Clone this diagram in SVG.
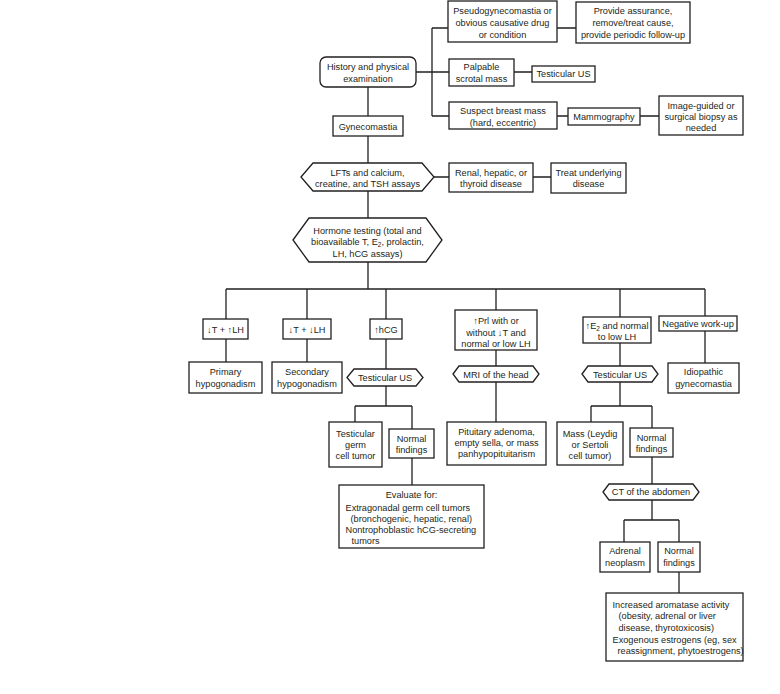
<svg xmlns="http://www.w3.org/2000/svg" width="780" height="694" viewBox="0 0 780 694">
<style>
.b{fill:#fff;stroke:#231f20;stroke-width:1.3}
.c{fill:none;stroke:#231f20;stroke-width:1.3}
text{font-family:"Liberation Sans",Arial,"DejaVu Sans",sans-serif;font-size:9.2px;fill:#231f20;text-anchor:middle}
.l{text-anchor:start}
.s{font-size:6.5px;baseline-shift:-1.5px}
</style>
<rect width="780" height="694" fill="#fff"/>
<g id="connectors" class="c">
<path d="M368,87V116M368,136V163M368,191V218M368,262V289"/>
<path d="M416,72H449M432,28V116M432,28H448M432,116H449"/>
<path d="M557,28H576M514,72H532M557,116H568M640,116H659"/>
<path d="M434,177H449M533,177H551"/>
<path d="M226,289H705M226,289V319M307,289V319M386,289V319M496,289V310M620,289V317M705,289V316"/>
<path d="M226,339V362M307,339V362M386,339V369M496,350V366M620,343V366M705,331V363"/>
<path d="M386,386V406M355,406H412M355,406V422M412,406V429M412,458V485"/>
<path d="M496,382V422"/>
<path d="M620,382V406M591,406H652M591,406V422M652,406V428M652,457V484"/>
<path d="M652,500V520M624,520H679M624,520V542M679,520V542M679,572V593"/>
</g>
<g id="history"><rect class="b" x="320" y="57" width="96" height="30" rx="6"/><text x="368" y="69.5">History and physical</text><text x="368" y="81.5">examination</text></g>
<g id="pseudo"><rect class="b" x="448" y="1" width="109" height="41"/><text x="502.5" y="14">Pseudogynecomastia or</text><text x="502.5" y="25.8">obvious causative drug</text><text x="502.5" y="37.5">or condition</text></g>
<g id="assurance"><rect class="b" x="576" y="2" width="114" height="41"/><text x="633" y="14">Provide assurance,</text><text x="633" y="25.8">remove/treat cause,</text><text x="633" y="37.5">provide periodic follow-up</text></g>
<g id="palpable"><rect class="b" x="449" y="59" width="65" height="27"/><text x="481.5" y="69.5">Palpable</text><text x="481.5" y="81.5">scrotal mass</text></g>
<g id="tus1"><rect class="b" x="532" y="66" width="63" height="16"/><text x="563.5" y="77.3">Testicular US</text></g>
<g id="suspect"><rect class="b" x="449" y="102" width="108" height="27"/><text x="503" y="113.5">Suspect breast mass</text><text x="503" y="125.5">(hard, eccentric)</text></g>
<g id="mammo"><rect class="b" x="568" y="108" width="72" height="17"/><text x="604" y="119.8">Mammography</text></g>
<g id="biopsy"><rect class="b" x="659" y="96" width="84" height="39"/><text x="701" y="108.5">Image-guided or</text><text x="701" y="119.5">surgical biopsy as</text><text x="701" y="130.5">needed</text></g>
<g id="gyneco"><rect class="b" x="333" y="116" width="70" height="20"/><text x="368" y="129.5">Gynecomastia</text></g>
<g id="lfts"><path class="b" d="M301,177L313,163H422L434,177L422,191H313Z"/><text x="367.5" y="175.5">LFTs and calcium,</text><text x="367.5" y="186.5">creatine, and TSH assays</text></g>
<g id="renal"><rect class="b" x="449" y="163" width="84" height="29"/><text x="491" y="175.5">Renal, hepatic, or</text><text x="491" y="186.5">thyroid disease</text></g>
<g id="treat"><rect class="b" x="551" y="163" width="75" height="30"/><text x="588.5" y="175.5">Treat underlying</text><text x="588.5" y="186.5">disease</text></g>
<g id="hormone"><path class="b" d="M293,240L309,218H426L442,240L426,262H309Z"/><text x="367.5" y="233.5">Hormone testing (total and</text><text x="367.5" y="245">bioavailable T, E<tspan class="s">2</tspan>, prolactin,</text><text x="367.5" y="256.5">LH, hCG assays)</text></g>
<g id="tlh1"><rect class="b" x="203" y="319" width="45" height="20"/><text x="225.5" y="332.5">↓T + ↑LH</text></g>
<g id="tlh2"><rect class="b" x="283" y="319" width="48" height="20"/><text x="307" y="332.5">↓T + ↓LH</text></g>
<g id="hcg"><rect class="b" x="370" y="319" width="32" height="20"/><text x="386" y="332.5">↑hCG</text></g>
<g id="prl"><rect class="b" x="455" y="310" width="82" height="40"/><text x="496" y="324">↑Prl with or</text><text x="496" y="335.5">without ↓T and</text><text x="496" y="347">normal or low LH</text></g>
<g id="e2"><rect class="b" x="583" y="317" width="68" height="26"/><text x="617" y="328.5">↑E<tspan class="s">2</tspan> and normal</text><text x="617" y="339.5">to low LH</text></g>
<g id="negative"><rect class="b" x="659" y="316" width="78" height="15"/><text x="698" y="326.8">Negative work-up</text></g>
<g id="primary"><rect class="b" x="189" y="362" width="73" height="31"/><text x="225.5" y="375">Primary</text><text x="225.5" y="386.7">hypogonadism</text></g>
<g id="secondary"><rect class="b" x="272" y="362" width="70" height="31"/><text x="307" y="375">Secondary</text><text x="307" y="386.7">hypogonadism</text></g>
<g id="tus2"><path class="b" d="M347,377.5L354,369H416L423,377.5L416,386H354Z"/><text x="385" y="381">Testicular US</text></g>
<g id="mri"><path class="b" d="M453,374L459,366H533L539,374L533,382H459Z"/><text x="496" y="377.5">MRI of the head</text></g>
<g id="tus3"><path class="b" d="M582,374L588,366H652L658,374L652,382H588Z"/><text x="620" y="377.5">Testicular US</text></g>
<g id="idiopathic"><rect class="b" x="668" y="363" width="71" height="30"/><text x="703.5" y="375">Idiopathic</text><text x="703.5" y="386.7">gynecomastia</text></g>
<g id="germ"><rect class="b" x="329" y="422" width="53" height="45"/><text x="355.5" y="436.7">Testicular</text><text x="355.5" y="447.5">germ</text><text x="355.5" y="459">cell tumor</text></g>
<g id="normal1"><rect class="b" x="389" y="429" width="45" height="29"/><text x="411.5" y="441.7">Normal</text><text x="411.5" y="452.7">findings</text></g>
<g id="pituitary"><rect class="b" x="447" y="422" width="99" height="43"/><text x="496.5" y="435">Pituitary adenoma,</text><text x="496.5" y="445.7">empty sella, or mass</text><text x="496.5" y="456.7">panhypopituitarism</text></g>
<g id="mass"><rect class="b" x="557" y="422" width="66" height="43"/><text x="590" y="436.7">Mass (Leydig</text><text x="590" y="447.7">or Sertoli</text><text x="590" y="459">cell tumor)</text></g>
<g id="normal2"><rect class="b" x="630" y="428" width="43" height="29"/><text x="651.5" y="441">Normal</text><text x="651.5" y="452.4">findings</text></g>
<g id="evaluate"><rect class="b" x="339" y="485" width="145" height="63"/><text x="411.5" y="497.5">Evaluate for:</text><text class="l" x="345.5" y="510.5">Extragonadal germ cell tumors</text><text class="l" x="350.5" y="521.5">(bronchogenic, hepatic, renal)</text><text class="l" x="345.5" y="532.5">Nontrophoblastic hCG-secreting</text><text class="l" x="351.5" y="543.5">tumors</text></g>
<g id="ct"><path class="b" d="M603,492L609,484H693L699,492L693,500H609Z"/><text x="651" y="495.3">CT of the abdomen</text></g>
<g id="adrenal"><rect class="b" x="600" y="542" width="50" height="30"/><text x="625" y="553.5">Adrenal</text><text x="625" y="565.5">neoplasm</text></g>
<g id="normal3"><rect class="b" x="658" y="542" width="42" height="30"/><text x="679" y="553.5">Normal</text><text x="679" y="565.5">findings</text></g>
<g id="aromatase"><rect class="b" x="606" y="593" width="137" height="68"/><text class="l" x="612.5" y="607.5">Increased aromatase activity</text><text class="l" x="618.5" y="618.5">(obesity, adrenal or liver</text><text class="l" x="618.5" y="630.5">disease, thyrotoxicosis)</text><text class="l" x="612.5" y="642.5">Exogenous estrogens (eg, sex</text><text class="l" x="617.5" y="653.5">reassignment, phytoestrogens)</text></g>
</svg>
